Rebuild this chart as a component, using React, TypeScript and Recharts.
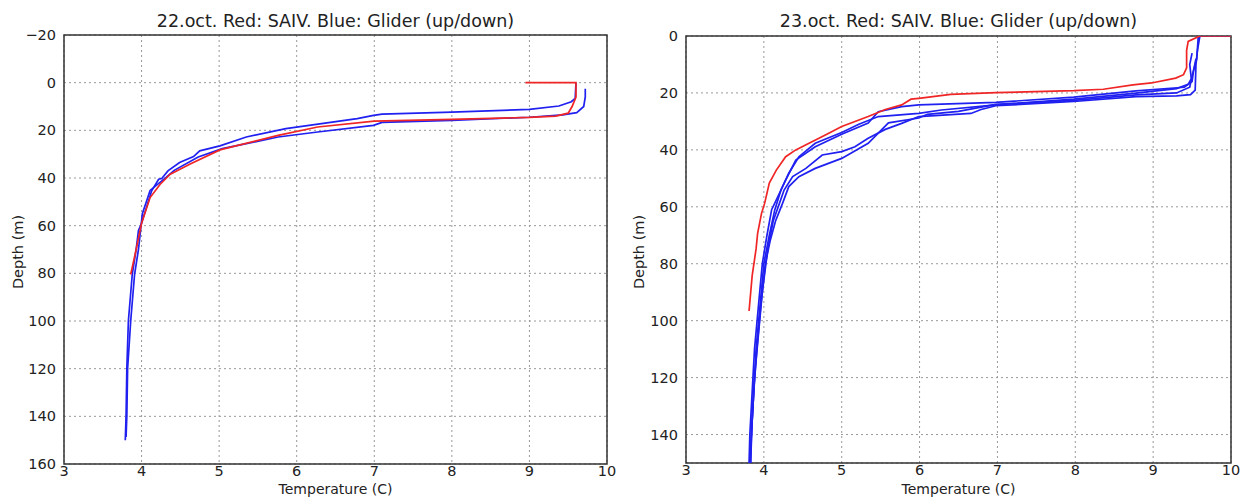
import React from 'react';
import { ScatterChart, Scatter, XAxis, YAxis, CartesianGrid, ReferenceArea } from 'recharts';

// ---- 22.oct ----
const oct22RedT = [8.95, 9.6, 9.6, 9.55, 9.5, 9.34, 9.0, 8.0, 7.0, 6.27, 5.76, 5.01, 4.62, 4.37, 4.24, 4.11, 4.0, 3.93, 3.86];
const oct22RedD = [0, 0, 6, 10, 12.8, 14, 14.6, 15.4, 16.1, 18.6, 22.1, 28.2, 34.2, 38.4, 42.6, 48.2, 59, 70, 80.5];

const oct22BlueAT = [9.6, 9.59, 9.54, 9.38, 9.0, 8.0, 7.1, 6.99, 6.78, 5.86, 5.35, 5.01, 4.75, 4.67, 4.49, 4.34, 4.26, 4.22, 4.13, 4.0, 3.96, 3.93, 3.88, 3.83, 3.81, 3.8, 3.79];
const oct22BlueAD = [0, 6.6, 8, 9.8, 11.2, 12.4, 13.2, 13.7, 15.1, 19.3, 22.8, 26.5, 28.6, 31, 33.5, 37, 40.2, 40.5, 45.4, 59, 62, 70, 80.4, 100, 120, 140, 150];

const oct22BlueBT = [9.72, 9.72, 9.7, 9.61, 9.43, 9.0, 8.0, 7.1, 6.99, 6.27, 5.76, 5.04, 4.73, 4.42, 4.32, 4.11, 4.01, 3.96, 3.91, 3.86, 3.82, 3.81, 3.8];
const oct22BlueBD = [2.5, 6, 10, 12.6, 13.5, 14.5, 15.8, 16.7, 17.9, 20.7, 22.8, 27.7, 31.2, 36.8, 39.6, 45.2, 55, 70, 80.4, 100, 120, 140, 148.7];

// ---- 23.oct ----
const oct23RedT = [10.0, 9.6, 9.45, 9.43, 9.43, 9.39, 9.29, 8.98, 8.74, 8.36, 7.98, 6.98, 6.4, 5.99, 5.89, 5.77, 5.56, 5.34, 5.0, 4.79, 4.58, 4.41, 4.28, 4.16, 4.07, 4.01, 3.97, 3.92, 3.9, 3.85, 3.81];
const oct23RedD = [0, 0, 1.9, 5, 11.2, 13.6, 14.8, 16.5, 17.2, 18.7, 19.2, 19.9, 20.5, 21.9, 22.2, 24.2, 25.8, 28.3, 31.8, 34.8, 37.7, 40, 42.4, 47.1, 51.7, 58.8, 62.3, 69.3, 74.8, 84.2, 96.6];

const oct23B1T = [10.0, 9.6, 9.57, 9.55, 9.54, 9.48, 9.3, 8.78, 7.98, 6.98, 6.79, 6.66, 5.99, 5.77, 5.56, 5.34, 5.17, 5.0, 4.75, 4.54, 4.37, 4.26, 4.2, 4.12, 4.05, 3.98, 3.93, 3.88, 3.85, 3.83];
const oct23B1D = [0, 0, 5, 10, 19, 20.6, 21, 21.3, 23, 24.5, 25.8, 27.2, 28.3, 30.7, 32.8, 35.9, 38.9, 40.6, 41.8, 46.5, 49.4, 54.1, 58.8, 65, 75, 90, 105, 120, 135, 150];

const oct23B2T = [9.5, 9.47, 9.49, 9.45, 9.3, 8.78, 7.98, 6.98, 6.28, 5.99, 5.47, 5.22, 5.0, 4.66, 4.45, 4.32, 4.22, 4.14, 4.07, 4.0, 3.95, 3.9, 3.87, 3.84, 3.82];
const oct23B2D = [6, 10, 15, 17, 18.5, 20.1, 22.2, 24.2, 26, 27.2, 28.3, 31, 33.9, 37.7, 42.4, 48.2, 54.1, 61.1, 70, 80, 95, 110, 125, 140, 150];

const oct23B3T = [9.55, 9.52, 9.5, 9.4, 8.78, 7.98, 6.98, 5.99, 5.77, 5.47, 5.34, 5.0, 4.66, 4.41, 4.28, 4.18, 4.1, 4.04, 3.98, 3.93, 3.88, 3.85, 3.82, 3.81];
const oct23B3D = [8, 12, 16, 18, 19.3, 21.5, 23.3, 24.2, 24.8, 26.6, 30.6, 34.5, 38.9, 43.6, 50.6, 56.4, 61, 70, 80, 95, 110, 125, 140, 150];

const oct23B4T = [9.58, 9.56, 9.5, 9.47, 9.3, 8.78, 7.98, 6.98, 6.5, 6.1, 5.99, 5.6, 5.34, 5.0, 4.66, 4.45, 4.32, 4.24, 4.15, 4.08, 4.02, 3.96, 3.91, 3.87, 3.84, 3.83];
const oct23B4D = [0, 8, 14, 18, 20, 20.7, 22.6, 24.0, 26.5, 27.5, 28.8, 30.5, 37.7, 43, 46.5, 49.4, 52.9, 58.8, 65, 72, 80, 95, 110, 125, 140, 150];

const X_TICKS = [3, 4, 5, 6, 7, 8, 9, 10];
const LEFT_Y_TICKS = [-20, 0, 20, 40, 60, 80, 100, 120, 140, 160];
const RIGHT_Y_TICKS = [0, 20, 40, 60, 80, 100, 120, 140];

const RED = '#f02525';
const BLUE = '#2020f0';
const FONT = '"DejaVu Sans", sans-serif';

const pts = (t: number[], d: number[]) => t.map((v, i) => ({ t: v, d: d[i] }));
const minus = (v: number) => String(v).replace('-', '\u2212');

interface Series { color: string; points: { t: number; d: number }[] }

function Profile({ left, title, series, yDomain, yTicks, marginLeft, marginRight, top, bottom }: {
  left: number; title: string; series: Series[]; yDomain: [number, number]; yTicks: number[];
  marginLeft: number; marginRight: number; top: number; bottom: number;
}) {
  const plotLeft = marginLeft + 56;
  const plotRight = 620 - marginRight;
  const cx = (plotLeft + plotRight) / 2;
  const tickStyle = { fill: '#222', fontSize: 14.5, fontFamily: FONT };
  return (
    <div style={{ position: 'absolute', left, top: 0, width: 620, height: 497 }}>
      <ScatterChart width={620} height={497} margin={{ top, left: marginLeft, right: marginRight, bottom }}>
        <CartesianGrid stroke="#999" strokeDasharray="2 3" />
        <XAxis type="number" dataKey="t" domain={[3, 10]} ticks={X_TICKS} allowDataOverflow
          height={30} tickLine={false} tickSize={2} tickMargin={0} tick={tickStyle} axisLine={false} />
        <YAxis type="number" dataKey="d" domain={yDomain} ticks={yTicks} reversed allowDataOverflow
          width={56} tickLine={false} tick={tickStyle} axisLine={false} tickFormatter={minus} />
        {series.map((s, i) => (
          <Scatter key={i} data={s.points} fill={s.color}
            line={{ stroke: s.color, strokeWidth: 1.7 }} shape={() => <g />} isAnimationActive={false} />
        ))}
        <ReferenceArea x1={3} x2={10} y1={yDomain[0]} y2={yDomain[1]} fill="none" fillOpacity={0}
          stroke="#333" strokeWidth={1.5} ifOverflow="visible" />
      </ScatterChart>
      <div style={{ position: 'absolute', left: cx - 250, width: 500, top: 11, textAlign: 'center', fontFamily: FONT, fontSize: 17.5, color: '#222' }}>{title}</div>
      <div style={{ position: 'absolute', left: cx - 100, width: 200, top: 482, lineHeight: '15px', textAlign: 'center', fontFamily: FONT, fontSize: 14, color: '#222' }}>Temperature (C)</div>
      <div style={{ position: 'absolute', left: left === 0 ? 18 : 19, top: 252, fontFamily: FONT, fontSize: 14.5, color: '#222', transform: 'translate(-50%, -50%) rotate(-90deg)', whiteSpace: 'nowrap' }}>Depth (m)</div>
    </div>
  );
}

export default function App() {
  const leftSeries: Series[] = [
    { color: BLUE, points: pts(oct22BlueAT, oct22BlueAD) },
    { color: BLUE, points: pts(oct22BlueBT, oct22BlueBD) },
    { color: RED, points: pts(oct22RedT, oct22RedD) },
  ];
  const rightSeries: Series[] = [
    { color: BLUE, points: pts(oct23B1T, oct23B1D) },
    { color: BLUE, points: pts(oct23B2T, oct23B2D) },
    { color: BLUE, points: pts(oct23B3T, oct23B3D) },
    { color: BLUE, points: pts(oct23B4T, oct23B4D) },
    { color: RED, points: pts(oct23RedT, oct23RedD) },
  ];
  return (
    <div style={{ position: 'absolute', left: 0, top: 0, width: 1240, height: 497, background: '#fff', overflow: 'hidden' }}>
      <Profile left={0} title="22.oct. Red: SAIV. Blue: Glider (up/down)" series={leftSeries}
        yDomain={[-20, 160]} yTicks={LEFT_Y_TICKS} marginLeft={8} marginRight={13} top={35} bottom={3} />
      <Profile left={620} title="23.oct. Red: SAIV. Blue: Glider (up/down)" series={rightSeries}
        yDomain={[0, 150]} yTicks={RIGHT_Y_TICKS} marginLeft={10} marginRight={9} top={36} bottom={4} />
    </div>
  );
}
